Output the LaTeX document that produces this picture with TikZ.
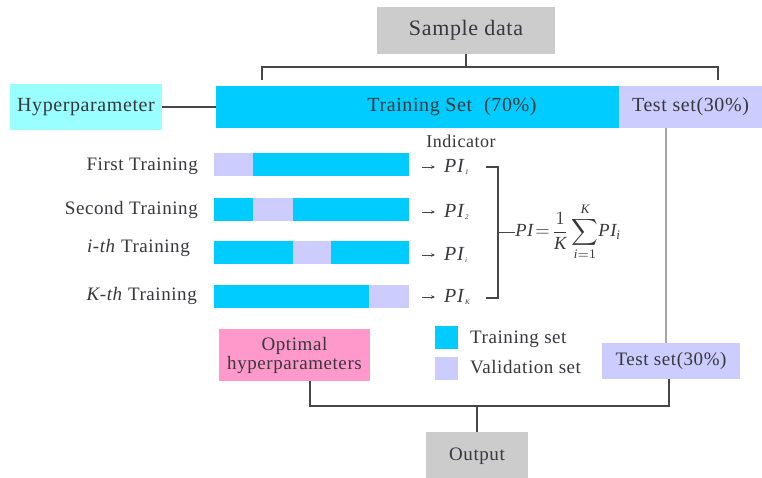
\documentclass[tikz,border=0pt]{standalone}
\usepackage{amsmath}
\usepackage{fontspec}
\setmainfont[LetterSpace=3]{Liberation Serif}
\usetikzlibrary{arrows.meta}

\definecolor{trainc}{RGB}{0,204,255}
\definecolor{valc}{RGB}{204,204,255}
\definecolor{hypc}{RGB}{153,255,255}
\definecolor{optc}{RGB}{255,153,204}
\definecolor{greyc}{RGB}{204,204,204}
\definecolor{inkc}{RGB}{55,55,60}
\definecolor{linec}{RGB}{70,70,70}

\newcommand{\fsz}[1]{\fontsize{#1}{#1}\selectfont}
\newcommand{\pisub}[1]{\textit{PI}{\fsz{7}\raisebox{-2.5pt}{\textit{#1}}}}

\tikzset{
  blk/.style={inner sep=0pt, outer sep=0pt, text=inkc},
  boxsz/.style 2 args={minimum width=#1pt, minimum height=#2pt},
  seg/.style={blk, fill=#1, minimum height=23pt, anchor=west},
  lab/.style={inner sep=0pt, text=inkc, font=\fsz{19}},
  conn/.style={draw=linec, line width=1.2pt},
  thin/.style={draw=linec, line width=1pt},
  greyline/.style={draw=gray!70, line width=1.1pt},
  small arrow/.style={draw=linec, line width=0.8pt, -{Stealth[length=4pt,width=3.5pt]}}
}

\begin{document}
\begin{tikzpicture}[x=1pt,y=-1pt]
  % canvas
  \path[fill=white] (0,0) rectangle (762,477);
  \useasboundingbox (0,0) rectangle (762,477);

  % top: data source and split
  \node[blk, fill=greyc, boxsz={178}{47}, font=\fsz{22}] (sample) at (466,30.5) {Sample data};
  \node[blk, fill=trainc, boxsz={403}{42}] (trainbar) at (417.5,107) {};
  \node[lab, font=\fsz{20}] (trainlbl) at (452,107) {Training Set\hspace{0.6em}(70\%)};
  \node[blk, fill=valc, boxsz={143}{42}, font=\fsz{20}] (testbar) at (690.5,107) {Test set(30\%)};
  \node[blk, fill=hypc, boxsz={152}{46}, font=\fsz{20}] (hyper) at (86,107) {Hyperparameter};
  \draw[conn] (hyper.east) -- (trainbar.west);

  \coordinate (sj) at (466,67);
  \coordinate (sl) at (262,80);
  \coordinate (sr) at (718,80);
  \draw[conn] (sample.south) -- (sj);
  \draw[conn] (sl) -- (sl |- sj) -- (sr |- sj) -- (sr);

  % folds
  \node[lab, font=\fsz{18}] (indic) at (461,141) {Indicator};

  \node[lab, anchor=east] (l1) at (198,166) {First Training};
  \node[seg=valc, minimum width=39pt] (r1a) at (214,164.5) {};
  \node[seg=trainc, minimum width=156pt] (r1b) at (253,164.5) {};

  \node[lab, anchor=east] (l2) at (198,210) {Second Training};
  \node[seg=trainc, minimum width=39pt] (r2a) at (214,209.5) {};
  \node[seg=valc, minimum width=40pt] (r2b) at (253,209.5) {};
  \node[seg=trainc, minimum width=116pt] (r2c) at (293,209.5) {};

  \node[lab, anchor=east] (l3) at (190,248) {\textit{i-th} Training};
  \node[seg=trainc, minimum width=79pt] (r3a) at (214,252.5) {};
  \node[seg=valc, minimum width=38pt] (r3b) at (293,252.5) {};
  \node[seg=trainc, minimum width=78pt] (r3c) at (331,252.5) {};

  \node[lab, anchor=east] (l4) at (197,296) {\textit{K-th} Training};
  \node[seg=trainc, minimum width=155pt] (r4a) at (214,296) {};
  \node[seg=valc, minimum width=40pt] (r4b) at (369,296) {};

  % performance indicators
  \node[lab, anchor=west, font=\fsz{20}] (p1) at (444,167) {\pisub{1}};
  \node[lab, anchor=west, font=\fsz{20}] (p2) at (444,212) {\pisub{2}};
  \node[lab, anchor=west, font=\fsz{20}] (p3) at (444,255) {\pisub{i}};
  \node[lab, anchor=west, font=\fsz{20}] (p4) at (444,297) {\pisub{K}};
  \foreach \r/\p in {r1b/p1, r2c/p2, r3c/p3, r4b/p4}
    \draw[small arrow] ([xshift=13pt]\r.east |- \p.west) -- ([xshift=-9pt]\p.west);

  \coordinate (bt) at (498,167);
  \coordinate (bb) at (498,298);
  \coordinate (bm) at (498,232);
  \draw[conn] (486,167) -- (bt) -- (bb) -- (486,298);
  \node[lab, anchor=west, font=\fsz{10}, scale=1.85, transform shape] (pi) at (515,232)
    {$\displaystyle\textit{PI}\!=\!\frac{1}{\textit{K}}\sum_{\textit{i}=1}^{\textit{K}}\!\textit{PI}_{\textit{i}}$};
  \draw[thin] (bm) -- (pi.west);

  % legend
  \node[blk, fill=trainc, boxsz={23}{23}] (lg1) at (446.5,337.5) {};
  \node[blk, fill=valc, boxsz={23}{23}] (lg2) at (446.5,368.5) {};
  \node[lab, anchor=west] (lt1) at (470,339) {Training set};
  \node[lab, anchor=west] (lt2) at (470,367) {Validation set};

  % outcome
  \node[blk, fill=optc, boxsz={151}{52}, font=\fsz{19}, align=center] (opt) at (294.5,355)
    {Optimal\\[0pt]hyperparameters};
  \node[blk, fill=valc, boxsz={138}{36}, font=\fsz{19}] (testlow) at (671,361) {Test set(30\%)};
  \node[blk, fill=greyc, boxsz={102}{48}, font=\fsz{19}] (out) at (477,456) {Output};

  \coordinate (tx) at (666,0);
  \draw[greyline] (testbar.south -| tx) -- (testlow.north -| tx);

  \coordinate (ol) at (310,406);
  \coordinate (orr) at (669,406);
  \draw[conn] (opt.south -| ol) -- (ol) -- (orr) -- (testlow.south -| orr);
  \draw[conn] (out.north |- ol) -- (out.north);
\end{tikzpicture}
\end{document}
